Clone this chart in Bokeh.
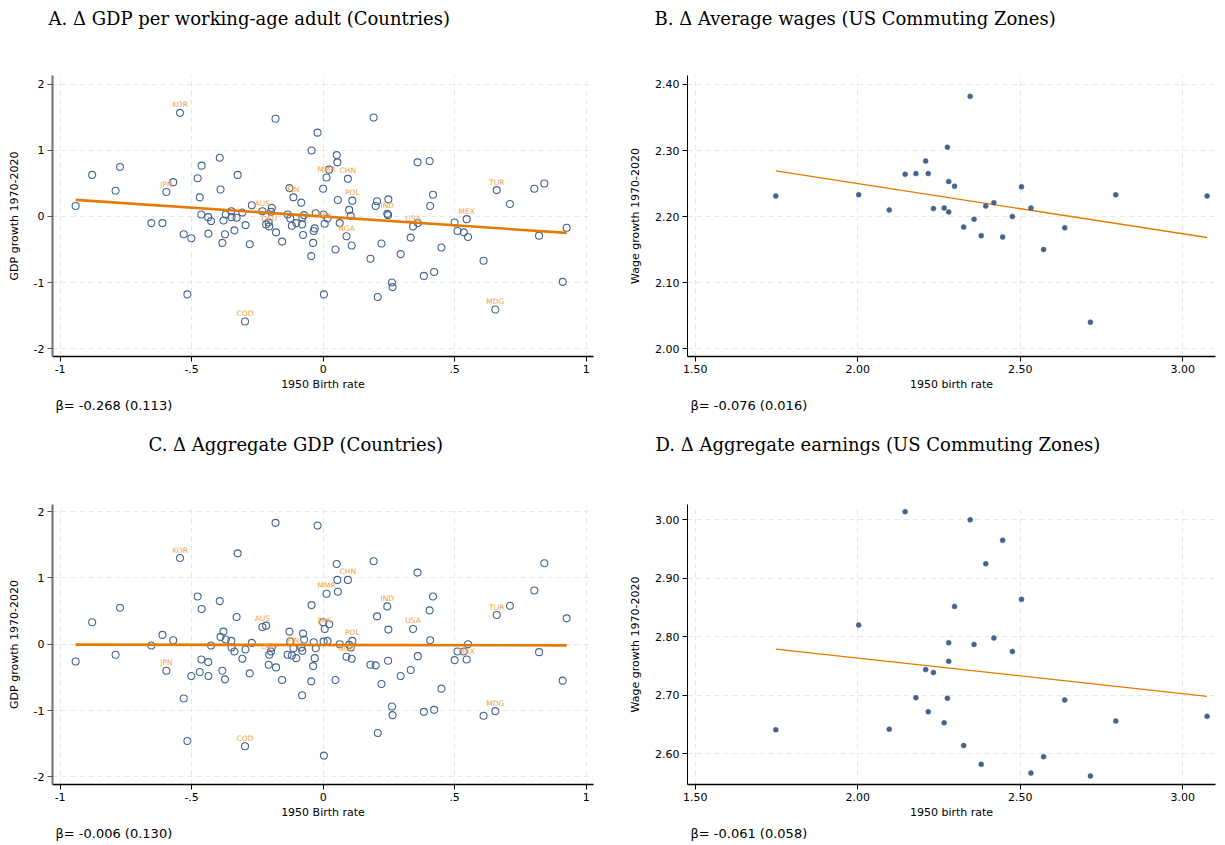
import numpy as np
from bokeh.plotting import figure
from bokeh.models import FixedTicker, Title, Range1d
from bokeh.layouts import column, row
from bokeh.embed import file_html
from bokeh.resources import INLINE
from bokeh.core.properties import value

# ---- Countries: 1950 birth rate (deviation) vs. growth 1970-2020 ----
country_birth_rate = [
    -0.941, -0.878, -0.789, -0.772, -0.653, -0.611, -0.596, -0.570, -0.544, -0.530,
    -0.516, -0.501, -0.477, -0.469, -0.463, -0.462, -0.437, -0.436, -0.426, -0.393,
    -0.390, -0.383, -0.379, -0.373, -0.370, -0.349, -0.348, -0.337, -0.329, -0.325,
    -0.307, -0.295, -0.297, -0.279, -0.271, -0.231, -0.217, -0.205, -0.207, -0.198,
    -0.195, -0.179, -0.181, -0.156, -0.135, -0.128, -0.125, -0.119, -0.113, -0.102,
    -0.083, -0.080, -0.079, -0.076, -0.072, -0.044, -0.045, -0.038, -0.036, -0.032,
    -0.028, -0.021, 0.000, 0.002, 0.006, 0.003, 0.013, 0.017, 0.023, 0.047,
    0.052, 0.054, 0.056, 0.063, 0.089, 0.094, 0.099, 0.105, 0.109, 0.111,
    0.180, 0.192, 0.200, 0.205, 0.208, 0.222, 0.244, 0.247, 0.248, 0.262,
    0.264, 0.295, 0.333, 0.342, 0.359, 0.360, 0.383, 0.405, 0.407, 0.418,
    0.422, 0.450, 0.500, 0.511, 0.535, 0.546, 0.551, 0.610, 0.655, 0.660,
    0.710, 0.803, 0.821, 0.841, 0.911, 0.926,
]
gdp_per_adult_growth = [
    0.16, 0.63, 0.39, 0.75, -0.10, -0.10, 0.37, 0.52, 1.57, -0.27,
    -1.18, -0.33, 0.58, 0.29, 0.03, 0.77, -0.01, -0.26, -0.07, 0.89,
    0.41, -0.40, -0.06, -0.27, 0.03, 0.08, -0.01, -0.21, -0.02, 0.63,
    0.06, -0.13, -1.59, -0.42, 0.17, 0.08, -0.12, -0.15, -0.09, 0.07,
    0.13, -0.24, 1.48, -0.38, 0.03, 0.43, -0.03, -0.14, 0.29, -0.10,
    0.21, -0.12, -0.02, -0.28, 0.02, 1.00, -0.60, -0.40, -0.22, -0.18,
    0.05, 1.27, 0.42, 0.03, -0.11, -1.18, 0.59, -0.03, 0.71, -0.50,
    0.93, 0.82, 0.25, -0.10, -0.30, 0.57, 0.10, 0.01, -0.44, 0.24,
    -0.64, 1.50, 0.16, 0.23, -1.22, -0.41, 0.04, 0.02, 0.26, -1.00,
    -1.07, -0.57, -0.32, -0.15, 0.82, -0.10, -0.90, 0.84, 0.16, 0.33,
    -0.84, -0.47, -0.09, -0.22, -0.24, -0.04, -0.31, -0.67, -1.41, 0.40,
    0.19, 0.42, -0.29, 0.50, -0.99, -0.17,
]
gdp_aggregate_growth = [
    -0.26, 0.33, -0.16, 0.55, -0.02, 0.14, -0.40, 0.06, 1.30, -0.82,
    -1.46, -0.48, 0.72, -0.42, -0.23, 0.53, -0.27, -0.48, -0.02, 0.65,
    0.11, -0.40, 0.19, -0.53, 0.07, 0.05, -0.05, -0.11, 0.41, 1.37,
    -0.22, -0.08, -1.54, -0.44, 0.02, 0.26, 0.28, -0.16, -0.31, -0.11,
    -0.05, -0.35, 1.83, -0.54, -0.16, 0.19, 0.04, -0.17, -0.06, -0.21,
    -0.05, -0.77, -0.10, 0.16, 0.07, 0.59, -0.56, -0.33, 0.03, -0.21,
    -0.06, 1.79, 0.33, 0.04, 0.23, -1.68, 0.76, 0.05, 0.30, -0.54,
    1.21, 0.97, 0.79, 0.00, -0.19, 0.97, -0.01, -0.05, -0.22, 0.05,
    -0.31, 1.25, -0.32, 0.42, -1.34, -0.60, 0.57, -0.25, 0.22, -0.94,
    -1.07, -0.48, -0.39, 0.23, 1.08, -0.18, -1.02, 0.51, 0.06, 0.72,
    -0.99, -0.67, -0.24, -0.11, -0.11, -0.23, 0.00, -1.08, -1.01, 0.44,
    0.58, 0.81, -0.12, 1.22, -0.55, 0.39,
]
# highlighted countries and their row in the arrays above
label_codes = ["JPN", "KOR", "COD", "AUS", "DEU", "FIN", "PAK", "MMR",
               "NGA", "CHN", "POL", "IND", "USA", "MEX", "MDG", "TUR"]
label_rows = [6, 8, 32, 35, 37, 48, 64, 66, 74, 75, 79, 86, 93, 105, 108, 109]

# ---- US commuting zones ----
cz_birth_rate = [
    1.748, 2.003, 2.097, 2.146, 2.179, 2.209, 2.217, 2.233, 2.266, 2.276,
    2.280, 2.280, 2.298, 2.326, 2.346, 2.358, 2.380, 2.394, 2.419, 2.446,
    2.476, 2.504, 2.533, 2.572, 2.637, 2.716, 2.794, 3.075,
]
cz_wage_growth = [
    2.231, 2.233, 2.210, 2.264, 2.265, 2.284, 2.265, 2.212, 2.213, 2.305,
    2.253, 2.207, 2.246, 2.184, 2.382, 2.196, 2.171, 2.216, 2.221, 2.169,
    2.200, 2.245, 2.213, 2.150, 2.183, 2.040, 2.233, 2.231,
]
cz_earnings_growth = [
    2.641, 2.820, 2.642, 3.014, 2.696, 2.744, 2.672, 2.739, 2.653, 2.695,
    2.790, 2.758, 2.852, 2.614, 3.000, 2.787, 2.582, 2.925, 2.798, 2.965,
    2.775, 2.864, 2.567, 2.595, 2.692, 2.562, 2.656, 2.664,
]

# ---- regression slopes (standard errors) ----
slopes = [-0.268, -0.076, -0.006, -0.061]
slope_se = [0.113, 0.016, 0.130, 0.058]

panel_titles = [
    "A. \u0394 GDP per working-age adult (Countries)",
    "B. \u0394 Average wages (US Commuting Zones)",
    "C. \u0394 Aggregate GDP (Countries)",
    "D. \u0394 Aggregate earnings (US Commuting Zones)",
]

country_xticks = [-1, -0.5, 0, 0.5, 1]
country_xtick_labels = ["-1", "-.5", "0", ".5", "1"]
country_yticks = [-2, -1, 0, 1, 2]
country_ytick_labels = ["-2", "-1", "0", "1", "2"]
cz_xticks = [1.5, 2.0, 2.5, 3.0]
cz_xtick_labels = ["1.50", "2.00", "2.50", "3.00"]
cz_wage_yticks = [2.0, 2.1, 2.2, 2.3, 2.4]
cz_earn_yticks = [2.6, 2.7, 2.8, 2.9, 3.0]

SANS = "DejaVu Sans"
SERIF = "DejaVu Serif"
BLUE = "#44648d"
LINE_ORANGE = "#e47b00"
LABEL_ORANGE = "#f2a03f"
GRID = "#e6e6e6"


def make_panel(title, title_offset, heading_pad, gap, x, y, slope, se,
               xlabel, ylabel, xr, yr, xticks, xtick_labels, yticks,
               ytick_labels, frame, countries):
    left, right, top, bottom, fw, fh = frame
    p = figure(frame_width=fw, frame_height=fh,
               x_range=Range1d(*xr), y_range=Range1d(*yr),
               min_border_left=left, min_border_right=right,
               min_border_top=top, min_border_bottom=bottom,
               output_backend="svg", toolbar_location=None,
               background_fill_color="white", border_fill_color="white")
    p.outline_line_color = None
    p.title.text = ""

    # blank band between the heading and the plot frame, then the heading
    spacer = Title(text=" ", text_font_size="1px", standoff=gap)
    heading = Title(text=title, text_font=SERIF, text_font_size="18px",
                    text_font_style="normal", text_color="black",
                    align="left", offset=title_offset, standoff=heading_pad)
    p.add_layout(spacer, "above")
    p.add_layout(heading, "above")

    # axes
    for ax in (p.xaxis[0], p.yaxis[0]):
        ax.major_label_text_font = SANS
        ax.major_label_text_font_size = "11px"
        ax.major_label_text_color = "black"
        ax.axis_label_text_font = SANS
        ax.axis_label_text_font_size = "11px"
        ax.axis_label_text_font_style = "normal"
        ax.axis_label_text_color = "black"
        ax.minor_tick_line_color = None
        ax.major_tick_out = 5
        ax.major_tick_in = 0
        ax.major_label_standoff = 3
        ax.major_tick_line_color = "black"
    p.xaxis.axis_label = xlabel
    p.yaxis.axis_label = ylabel
    p.xaxis.axis_label_standoff = 2
    p.yaxis.axis_label_standoff = 10
    p.xaxis.ticker = FixedTicker(ticks=xticks)
    p.yaxis.ticker = FixedTicker(ticks=yticks)
    p.xaxis.major_label_overrides = dict(zip(xticks, xtick_labels))
    p.yaxis.major_label_overrides = dict(zip(yticks, ytick_labels))
    p.xaxis.axis_line_color = "black"
    p.xaxis.axis_line_width = 1.3
    if countries:
        p.yaxis.axis_line_color = "#7a7a7a"
        p.yaxis.axis_line_width = 2.2
        p.yaxis.major_tick_line_color = "#555555"
    else:
        p.yaxis.axis_line_color = "black"
        p.yaxis.axis_line_width = 1.0

    for g in (p.xgrid[0], p.ygrid[0]):
        g.grid_line_color = GRID
        g.grid_line_dash = "5 4"
        g.grid_line_width = 1

    xa = np.asarray(x, dtype=float)
    ya = np.asarray(y, dtype=float)
    intercept = ya.mean() - slope * xa.mean()
    xs = [xa.min(), xa.max()]

    if countries:
        p.scatter(xa, ya, marker="circle", size=7, fill_color=None,
                  line_color=BLUE, line_width=1.1)
        p.line(xs, [intercept + slope * v for v in xs],
               line_color=LINE_ORANGE, line_width=2.6)
        lx = [xa[i] for i in label_rows]
        ly = [ya[i] for i in label_rows]
        p.text(lx, ly, text=label_codes, text_font=value(SANS),
               text_font_size="7.5px", text_color=LABEL_ORANGE,
               text_align="center", text_baseline="middle", y_offset=-8)
    else:
        p.line(xs, [intercept + slope * v for v in xs],
               line_color=LINE_ORANGE, line_width=1.3)
        p.scatter(xa, ya, marker="circle", size=5, fill_color=BLUE,
                  line_color=BLUE, line_width=0.5)

    beta = Title(text=f"\u03b2= {slope:.3f} ({se:.3f})", align="left",
                 text_font=SANS, text_font_size="13px",
                 text_font_style="normal", text_color="black",
                 offset=3, standoff=4)
    p.add_layout(beta, "below")
    return p


pa = make_panel(panel_titles[0], -4, 10, 39, country_birth_rate, gdp_per_adult_growth,
                slopes[0], slope_se[0], "1950 Birth rate", "GDP growth 1970-2020",
                (-1.029, 1.028), (-2.121, 2.136),
                country_xticks, country_xtick_labels,
                country_yticks, country_ytick_labels,
                (52, 19, 75, 66, 541, 281), True)
pb = make_panel(panel_titles[1], -33, 10, 39, cz_birth_rate, cz_wage_growth,
                slopes[1], slope_se[1], "1950 birth rate", "Wage growth 1970-2020",
                (1.4763, 3.1009), (1.988, 2.4136),
                cz_xticks, cz_xtick_labels,
                cz_wage_yticks, [f"{v:.2f}" for v in cz_wage_yticks],
                (75, 10, 75, 66, 528, 281), False)
pc = make_panel(panel_titles[2], 96, 18, 38, country_birth_rate, gdp_aggregate_growth,
                slopes[2], slope_se[2], "1950 Birth rate", "GDP growth 1970-2020",
                (-1.029, 1.028), (-2.116, 2.107),
                country_xticks, country_xtick_labels,
                country_yticks, country_ytick_labels,
                (52, 19, 82, 61, 541, 280), True)
pd_ = make_panel(panel_titles[3], -32, 18, 38, cz_birth_rate, cz_earnings_growth,
                 slopes[3], slope_se[3], "1950 birth rate", "Wage growth 1970-2020",
                 (1.4763, 3.1009), (2.5475, 3.0262),
                 cz_xticks, cz_xtick_labels,
                 cz_earn_yticks, [f"{v:.2f}" for v in cz_earn_yticks],
                 (75, 10, 82, 61, 528, 280), False)

layout = column(row(pa, pb), row(pc, pd_))
open("out.html", "w").write(file_html(layout, INLINE))
